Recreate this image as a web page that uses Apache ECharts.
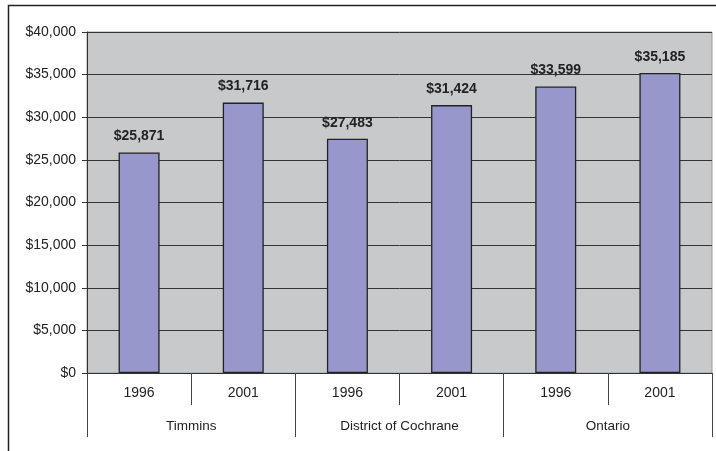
<!DOCTYPE html>
<html>
<head>
<meta charset="utf-8">
<script src="https://cdn.jsdelivr.net/npm/echarts@6/dist/echarts.min.js"></script>
<style>
  html, body { margin: 0; padding: 0; background: #fff; }
  #chart { width: 716px; height: 451px; }
</style>
</head>
<body>
<div id="chart"></div>
<script>
// Average income by area and census year
const years = ['1996', '2001', '1996', '2001', '1996', '2001'];
const areas = ['Timmins', 'District of Cochrane', 'Ontario'];
const incomes = [25871, 31716, 27483, 31424, 33599, 35185];
const yTicks = { min: 0, max: 40000, step: 5000 };

const money = v => '$' + Math.round(v).toLocaleString('en-US');
const font = 'Arial, "Liberation Sans", sans-serif';

const chart = echarts.init(document.getElementById('chart'), null, { renderer: 'canvas' });
chart.setOption({
  animation: false,
  backgroundColor: '#ffffff',
  graphic: [{
    type: 'polyline',
    shape: { points: [[8.5, 460], [8.5, 5.5], [730, 5.5]] },
    style: { stroke: '#222', lineWidth: 1.5, fill: null },
    silent: true
  }],
  grid: {
    left: 87, right: 4, top: 32, bottom: 78,
    show: true, backgroundColor: '#c8c9cb', borderColor: '#9a9a9a', borderWidth: 1
  },
  xAxis: [{
    type: 'category',
    data: years,
    position: 'bottom',
    axisLine: { show: true, lineStyle: { color: '#333', width: 1 } },
    axisTick: { show: true, length: 32, lineStyle: { color: '#444', width: 1 } },
    axisLabel: { margin: 13, fontFamily: font, fontSize: 14, color: '#222' },
    splitLine: { show: false }
  }, {
    type: 'category',
    data: areas,
    position: 'bottom',
    axisLine: { show: false },
    axisTick: { show: true, length: 64, lineStyle: { color: '#444', width: 1 } },
    axisLabel: { margin: 46, fontFamily: font, fontSize: 13.5, color: '#222' },
    splitLine: { show: false }
  }],
  yAxis: {
    type: 'value',
    min: yTicks.min, max: yTicks.max, interval: yTicks.step,
    axisLine: { show: true, lineStyle: { color: '#333', width: 1 } },
    axisTick: { show: true, length: 5, lineStyle: { color: '#333' } },
    axisLabel: { margin: 11, fontFamily: font, fontSize: 14, color: '#222', formatter: money },
    splitLine: { show: true, lineStyle: { color: '#333', width: 1 } }
  },
  series: [{
    type: 'bar',
    xAxisIndex: 0,
    data: incomes,
    barWidth: 41,
    itemStyle: { color: '#9797cb', borderColor: '#222', borderWidth: 1.3 },
    label: {
      show: true, position: 'top', distance: 9,
      fontFamily: font, fontSize: 14, fontWeight: 'bold', color: '#222',
      formatter: p => money(p.value)
    }
  }]
});
</script>
</body>
</html>
